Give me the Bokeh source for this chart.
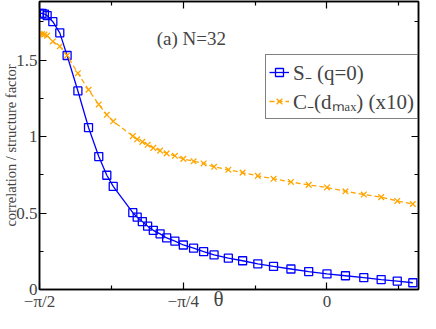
import math
from bokeh.plotting import figure
from bokeh.models import (Range1d, FixedTicker, LinearAxis, Legend, LegendItem, Label)
from bokeh.embed import file_html
from bokeh.resources import INLINE

# data (theta in radians)
theta = [-1.571, -1.557, -1.544, -1.529, -1.498, -1.460, -1.420, -1.361, -1.303, -1.247,
         -1.203, -1.168, -1.061, -1.037, -1.009, -0.980, -0.949, -0.912, -0.876, -0.831,
         -0.785, -0.729, -0.674, -0.617, -0.539, -0.461, -0.378, -0.292, -0.197, -0.100,
         0.000, 0.101, 0.201, 0.296, 0.384, 0.469]
s_q0 = [1.806, 1.806, 1.801, 1.791, 1.751, 1.678, 1.530, 1.298, 1.059, 0.869,
        0.747, 0.674, 0.502, 0.473, 0.444, 0.414, 0.387, 0.364, 0.337, 0.316,
        0.291, 0.270, 0.247, 0.226, 0.205, 0.188, 0.168, 0.151, 0.134, 0.117,
        0.102, 0.090, 0.077, 0.065, 0.055, 0.044]
c_dmax = [1.671, 1.670, 1.667, 1.660, 1.622, 1.590, 1.530, 1.414, 1.306, 1.210,
          1.142, 1.100, 1.003, 0.982, 0.965, 0.946, 0.926, 0.908, 0.890, 0.874,
          0.854, 0.838, 0.824, 0.802, 0.783, 0.764, 0.743, 0.724, 0.703, 0.684,
          0.667, 0.642, 0.621, 0.604, 0.579, 0.559]

x_major = [-math.pi / 2, -math.pi / 4, 0.0]
x_major_labels = ["\u2212\u03c0/2", "\u2212\u03c0/4", "0"]
x_minor = [-3 * math.pi / 8, -math.pi / 8, math.pi / 8]
y_major = [0, 0.5, 1, 1.5]
y_major_labels = ["0", "0.5", "1", "1.5"]
y_minor = [0.25, 0.75, 1.25, 1.75]

FONT = "Liberation Serif"

p = figure(width=420, height=313, output_backend="svg", toolbar_location=None,
           x_range=Range1d(-math.pi / 2, 0.5), y_range=Range1d(0, 1.883),
           min_border_left=30, min_border_right=2, min_border_top=1, min_border_bottom=10,
           x_axis_location=None, y_axis_location=None)
p.grid.visible = False
p.outline_line_color = "black"
p.outline_line_width = 1.5
p.background_fill_color = "white"
p.border_fill_color = "white"

def make_axis(ticks, minor, labels, show_labels):
    ax = LinearAxis(ticker=FixedTicker(ticks=ticks, minor_ticks=minor))
    ax.major_label_overrides = {t: l for t, l in zip(ticks, labels)}
    ax.major_tick_in = 7
    ax.major_tick_out = 0
    ax.minor_tick_in = 4
    ax.minor_tick_out = 0
    ax.axis_line_width = 1.5
    ax.major_tick_line_width = 1.2
    ax.minor_tick_line_width = 1.2
    ax.major_label_text_font = FONT
    ax.major_label_text_font_size = "17px"
    ax.major_label_text_line_height = 0.9
    ax.major_label_standoff = 2
    if not show_labels:
        ax.major_label_text_alpha = 0
        ax.major_label_text_font_size = "1px"
        ax.major_label_standoff = 0
    return ax

xb = make_axis(x_major, x_minor, x_major_labels, True)
xb.axis_label = "\u03b8\u2002\u2002"
xb.axis_label_text_font = FONT
xb.axis_label_text_font_style = "normal"
xb.axis_label_text_font_size = "21px"
xb.axis_label_text_line_height = 0.9
xb.axis_label_standoff = -27
p.add_layout(xb, "below")

yl = make_axis(y_major, y_minor, y_major_labels, True)
yl.axis_label = "correlation / structure factor"
yl.axis_label_text_font = FONT
yl.axis_label_text_font_style = "normal"
yl.axis_label_text_font_size = "14.5px"
yl.axis_label_standoff = -6
p.add_layout(yl, "left")

p.add_layout(make_axis(x_major, x_minor, x_major_labels, False), "above")
p.add_layout(make_axis(y_major, y_minor, y_major_labels, False), "right")

r1l = p.line(theta, s_q0, line_color="#0000ff", line_width=1.3)
r1m = p.scatter(theta, s_q0, marker="square", size=8, fill_color=None,
                line_color="#0000ff", line_width=1.3)
r2l = p.line(theta, c_dmax, line_color="#ffa500", line_width=1.3, line_dash="5 3")
r2m = p.scatter(theta, c_dmax, marker="x", size=8, line_color="#ffa500", line_width=1.3)

legend = Legend(items=[
    LegendItem(label="S\u208b (q=0)", renderers=[r1l, r1m]),
    LegendItem(label="C\u208b(d\u2098\u2090\u2093) (x10)", renderers=[r2l, r2m]),
], location=(226, 170))
legend.label_text_font = FONT
legend.label_text_font_size = "21px"
legend.glyph_width = 20
legend.glyph_height = 20
legend.label_height = 20
legend.label_standoff = 4
legend.padding = 3
legend.spacing = 1
legend.margin = 0
legend.border_line_color = "black"
legend.border_line_width = 1.2
legend.background_fill_alpha = 1
p.add_layout(legend, "center")

p.add_layout(Label(x=-0.93, y=1.64, text="(a) N=32", text_font=FONT,
                   text_font_size="19px", text_baseline="alphabetic", text_align="left"))

open("out.html", "w").write(file_html(p, INLINE))
